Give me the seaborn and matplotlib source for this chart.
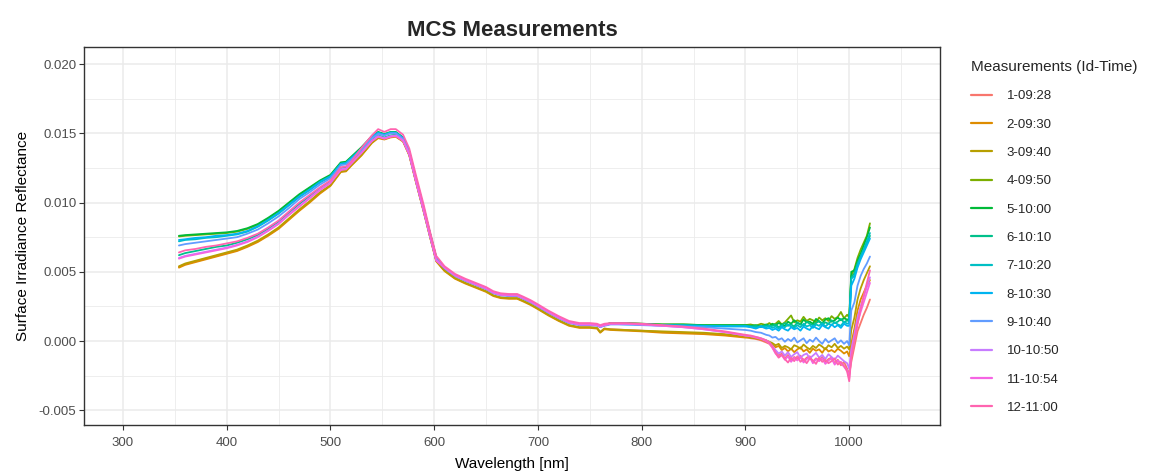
import numpy as np
import pandas as pd
import matplotlib
matplotlib.use("Agg")
import matplotlib.pyplot as plt
from matplotlib.ticker import MultipleLocator, FormatStrFormatter
import seaborn as sns

# Wavelength grid [nm]
wavelength = [354, 360, 370, 380, 390, 400, 410, 420, 430, 440, 450, 460, 470, 480, 490, 500,
              505, 510, 515, 520, 530, 540, 546, 552, 558, 563, 570, 576, 582, 590, 596, 602,
              610, 620, 630, 640, 650, 657, 664, 672, 680, 686, 693, 700, 710, 720, 730, 740,
              750, 757, 760, 764, 770, 785, 800, 820, 840, 860, 880, 900,
              905, 910, 915, 920,
              923, 926, 929, 932, 935, 938, 941, 944, 947, 950, 953, 956, 959,
              962, 965, 968, 971, 974, 977, 980, 983, 986, 989, 992, 995, 998,
              1000, 1002, 1005, 1008, 1011, 1014, 1017, 1020]

# Reflectance values in units of 1e-4
m01 = [53.5, 55.5, 57.5, 59.5, 61.5, 63.5, 65.5, 68.5, 72, 76.5, 81.5, 88, 94.5, 100.5, 107, 112.5,
       117.5, 122.5, 123, 127, 134.5, 143.5, 147, 146, 147.5, 148, 144.5, 134.5, 116.5, 93.5, 75.5, 58,
       51, 45.5, 42, 39, 36, 33, 31.5, 31, 31, 29, 26.5, 23.5, 19, 15, 11.5, 10,
       10, 9.5, 6.5, 9, 8.5, 8, 7.5, 6.5, 6, 5.5, 4.5, 3,
       2, 1.5, 0.5, -1,
       -2, -4.5, -8, -10.5, -9, -12.5, -10, -14, -11.5, -13, -10.5, -14.5, -12,
       -11, -15, -12.5, -14, -11.5, -15.5, -13, -12, -16, -13.5, -17.5, -15, -20,
       -24, -15, -4, 7, 13, 19, 24, 30]
m02 = [53, 55, 57, 59, 61, 63, 65, 68, 71.5, 76, 81, 87.5, 94, 100, 106.5, 112,
       117, 122, 122.5, 126.5, 134, 143, 146.5, 145.5, 147, 147.5, 144, 134, 116, 93, 75, 57.5,
       50.5, 45, 41.5, 38.5, 35.5, 32.5, 31, 30.5, 30.5, 28.5, 26, 23, 18.5, 14.5, 11, 9.5,
       9.5, 9, 6, 8.5, 8, 7.5, 7, 6, 5.5, 5, 4, 2.5,
       2.5, 2, 1, 0,
       -1, -2.5, -4.5, -3.5, -6.5, -5, -7.5, -5.5, -8, -6, -4.5, -7.5, -6,
       -8.5, -5.5, -7, -6, -8.5, -5, -7.5, -6.5, -8, -5.5, -7, -9, -7.5,
       -11, -2, 9, 22, 30, 35, 40, 44]
m03 = [54, 56, 58, 60, 62, 64, 66, 69, 72.5, 77, 82, 88.5, 95, 101, 107.5, 112.5,
       117.5, 122.5, 123, 127, 134.5, 143.5, 147, 146, 147.5, 148, 144.5, 134.5, 116.5, 93.5, 75.5, 58,
       51, 45.5, 42, 39, 36, 33, 31.5, 31, 31, 29, 26.5, 23.5, 19, 15, 11.5, 10,
       10, 9.5, 6.5, 9, 8.5, 8, 7.5, 7, 6.5, 6, 5, 3.5,
       2.5, 2, 1.5, 0.5,
       -0.5, -1.5, -3, -2, -5, -3.5, -4.5, -6, -3, -4, -5.5, -2.5, -4.5,
       -6, -3.5, -5, -2.5, -4, -6, -3, -4.5, -2, -5, -3.5, -5.5, -4,
       -6, 8, 17, 30, 38, 44, 49, 54]
m04 = [75.5, 76, 76.5, 77, 77.5, 78, 79, 81, 84, 88.5, 93.5, 99.5, 105.5, 110.5, 115.5, 119.5,
       124, 128.5, 129, 132.5, 139.5, 147.5, 150.5, 149, 150.5, 150.5, 146.5, 136.5, 118.5, 95.5, 77.5, 60,
       53, 47.5, 44, 41, 38, 35, 33.5, 33, 33, 31, 28.5, 25.5, 21, 17, 13.5, 12,
       12, 11.5, 10.5, 11.5, 13, 13, 12.5, 12, 12, 11.5, 11.5, 11.5,
       12, 11, 12.5, 11.5,
       13, 11.5, 12.5, 14.5, 12, 13.5, 16, 18.5, 13.5, 15, 14, 17.5, 14.5,
       16, 15, 13.5, 17, 15, 16.5, 14.5, 18, 16, 17.5, 21, 16.5, 19,
       17, 47, 52, 60, 66, 71, 76, 85]
m05 = [76, 76.5, 77, 77.5, 78, 78.5, 79.5, 81.5, 84.5, 89, 94, 100, 106, 111, 116, 120,
       124.5, 129, 129.5, 133, 140, 148, 151, 149.5, 151, 151, 147, 137, 119, 96, 78, 60.5,
       53, 47.5, 44, 41, 38, 35, 33.5, 33, 33, 31, 28.5, 25.5, 21, 17, 13.5, 12,
       12, 11.5, 10.5, 11.5, 13, 13, 12.5, 12, 12, 11.5, 11.5, 11.5,
       11, 11.5, 10.5, 12,
       11, 12.5, 11.5, 13, 12, 11, 14, 12.5, 15, 13, 12, 15.5, 13.5,
       14, 12.5, 16, 14, 13, 15.5, 16.5, 14, 15, 17, 15, 16.5, 15.5,
       16, 50, 51, 58, 63, 69, 75, 82]
m06 = [62, 63.5, 65, 66.5, 68, 69, 71, 73.5, 76.5, 81, 86, 92.5, 99, 104.5, 110.5, 115,
       120, 125, 125.5, 129, 136.5, 145, 148.5, 147, 148.5, 149, 145, 135, 117, 94, 76, 58.5,
       53, 47.5, 44, 41, 38, 35, 33.5, 33, 33, 31, 28.5, 25.5, 21, 17, 13.5, 12,
       12, 11.5, 10.5, 11.5, 12.5, 12.5, 12, 11.5, 11.5, 11, 11, 11,
       10.5, 11, 10, 11.5,
       10.5, 11, 12, 10, 11.5, 13, 11, 12, 10.5, 13.5, 12, 11, 14,
       12.5, 11.5, 13, 14.5, 12, 13.5, 12.5, 15, 13, 14, 16, 13.5, 15,
       14, 46, 49, 56, 61, 66, 71, 76]
m07 = [72, 73, 73.5, 74.5, 75, 76, 77, 79, 82.5, 87, 92, 98, 104, 109, 114.5, 118.5,
       123, 128, 128.5, 132, 139, 147, 150, 149, 150.5, 150.5, 146.5, 136.5, 118.5, 95.5, 77.5, 60,
       53, 47.5, 44, 41, 38, 35, 33.5, 33, 33, 31, 28.5, 25.5, 21, 17, 13.5, 12,
       12, 11.5, 10.5, 11.5, 12.5, 12.5, 12, 11.5, 11.5, 11, 11, 11,
       10.5, 9.5, 11, 10,
       11, 9.5, 10.5, 9, 11, 10, 12, 10.5, 9.5, 11.5, 10, 12.5, 10.5,
       11.5, 9.5, 12, 11, 13, 10.5, 12.5, 11.5, 13.5, 12, 11, 14, 12.5,
       13, 45, 47, 55, 61, 66, 72, 78]
m08 = [73, 73.5, 74.5, 75, 76, 76.5, 77.5, 79.5, 83, 87.5, 92.5, 98.5, 104.5, 109.5, 115, 119,
       123.5, 128, 128.5, 132, 139, 147.5, 150.5, 149, 150.5, 150.5, 146.5, 136.5, 118.5, 95.5, 77.5, 60,
       53, 47.5, 44, 41, 38, 35, 33.5, 33, 33, 31, 28.5, 25.5, 21, 17, 13.5, 12,
       12, 11.5, 10.5, 11.5, 12.5, 12, 12, 11.5, 11, 11, 10.5, 10.5,
       10, 9, 10.5, 9,
       9.5, 8, 9, 7.5, 10, 8.5, 7.5, 10, 8.5, 9.5, 7.5, 10.5, 9,
       8, 11, 9.5, 8.5, 11.5, 10, 9, 12, 10, 11.5, 9.5, 12.5, 11,
       11, 40, 45, 53, 59, 64, 69, 74]
m09 = [69, 70, 71, 72, 73, 74, 75, 77.5, 80.5, 85, 90, 96, 102.5, 107.5, 113, 117.5,
       122, 127, 127.5, 131, 138, 146.5, 149.5, 148.5, 150, 150, 146, 136, 118, 95, 77, 59.5,
       52.5, 47, 43.5, 40.5, 37.5, 34.5, 33, 32.5, 32.5, 30.5, 28, 25, 20.5, 16.5, 13, 11.5,
       11.5, 11, 10, 11, 12, 12, 11.5, 11, 10.5, 10, 9, 8,
       7.5, 6.5, 6, 4.5,
       4, 2.5, 3, 1, 2, -0.5, 1.5, 0, 2.5, -1, 0.5, 2, -1.5,
       1, -0.5, 2.5, 0, -2, 1.5, -1, 0.5, 2, -1.5, 0.5, -2, 0,
       -3, 22, 28, 40, 47, 52, 56, 61]
m10 = [60, 61.5, 63, 64.5, 66, 67.5, 69.5, 72, 75.5, 80, 85, 91.5, 97.5, 103.5, 109.5, 114.5,
       119, 124, 124.5, 128.5, 136, 144.5, 148, 146.5, 148, 148.5, 145, 135, 117, 94, 76, 58.5,
       53, 47.5, 44, 41, 38, 35, 33.5, 33, 33, 31, 28.5, 25.5, 21, 17, 13.5, 12,
       12, 11.5, 10.5, 11.5, 12.5, 12.5, 12, 11, 10, 8.5, 6.5, 4,
       3.5, 3, 2, 0.5,
       -1, -3.5, -6.5, -9, -7.5, -10.5, -8, -11.5, -9.5, -8, -12, -10, -9,
       -12.5, -10.5, -8.5, -12, -10, -13, -9.5, -11.5, -13.5, -10.5, -12.5, -14.5, -16,
       -20, -6, 5, 17, 25, 32, 39, 46]
m11 = [59.5, 61, 62.5, 64, 65.5, 67, 69, 71.5, 75, 79.5, 84.5, 91, 97, 103, 109, 114,
       119, 123.5, 124, 128, 136, 144.5, 147.5, 146, 147.5, 148, 144.5, 134.5, 116.5, 93.5, 75.5, 58,
       53, 47.5, 44, 41, 38, 35, 33.5, 33, 33, 31, 28.5, 25.5, 21, 17, 13.5, 12,
       12, 11.5, 10.5, 11.5, 12.5, 12.5, 12, 11, 10, 8.5, 6.5, 4,
       3.5, 2.5, 1.5, 0,
       -1.5, -5, -9, -11.5, -10, -13.5, -11, -15, -12, -14, -11.5, -15.5, -13,
       -11.5, -16, -13, -14.5, -12.5, -16.5, -14, -12.5, -17, -14, -16, -18.5, -21,
       -27, -10, 1, 13, 21, 28, 35, 42]
m12 = [64, 65.5, 66.5, 68, 69, 70.5, 72, 74.5, 77.5, 82, 87, 93.5, 100, 105.5, 111, 116,
       120.5, 125.5, 126, 129.5, 139.5, 148.5, 153, 151, 153, 153, 149, 139, 121, 98, 79, 61.5,
       54, 48.5, 45, 42, 39, 36, 34.5, 34, 34, 32, 29.5, 26.5, 22, 18, 14.5, 13,
       13, 12.5, 11.5, 12.5, 13, 13, 12.5, 11.5, 10.5, 9, 7, 4.5,
       4, 3, 2, 0.5,
       -1, -4, -8.5, -12, -10, -13, -15.5, -12, -14.5, -11, -15, -13, -16,
       -12.5, -14, -16.5, -12, -15, -13.5, -16, -14.5, -12.5, -17, -15, -18, -22,
       -29, -12, 0, 12, 23, 33, 42, 51]

labels = ["1-09:28", "2-09:30", "3-09:40", "4-09:50", "5-10:00", "6-10:10",
          "7-10:20", "8-10:30", "9-10:40", "10-10:50", "11-10:54", "12-11:00"]
colors = ["#F8766D", "#DE8C00", "#B79F00", "#7CAE00", "#00BA38", "#00C08B",
          "#00BFC4", "#00B4F0", "#619CFF", "#C77CFF", "#F564E3", "#FF64B0"]

series = [m01, m02, m03, m04, m05, m06, m07, m08, m09, m10, m11, m12]
frames = []
for lab, vals in zip(labels, series):
    assert len(vals) == len(wavelength), (lab, len(vals), len(wavelength))
    frames.append(pd.DataFrame({"Wavelength": wavelength,
                                "Reflectance": np.array(vals, dtype=float) * 1e-4,
                                "Measurement": lab}))
df = pd.concat(frames, ignore_index=True)

sns.set_theme(style="white")
plt.rcParams["font.family"] = ["Liberation Sans", "DejaVu Sans"]
plt.rcParams["axes.unicode_minus"] = False

W, H = 1160, 473
fig = plt.figure(figsize=(W / 100, H / 100), dpi=100)
L, R, T, B = 84, 940, 47, 425
ax = fig.add_axes([L / W, 1 - B / H, (R - L) / W, (B - T) / H])

sns.lineplot(data=df, x="Wavelength", y="Reflectance", hue="Measurement",
             hue_order=labels, palette=colors, linewidth=1.3, estimator=None,
             ax=ax)

ax.set_xlim(262.5, 1087.5)
ax.set_ylim(-0.00606, 0.02123)
ax.xaxis.set_major_locator(MultipleLocator(100))
ax.xaxis.set_minor_locator(MultipleLocator(50))
ax.yaxis.set_major_locator(MultipleLocator(0.005))
ax.yaxis.set_minor_locator(MultipleLocator(0.0025))
ax.yaxis.set_major_formatter(FormatStrFormatter("%.3f"))
ax.grid(which="major", color="#EBEBEB", linewidth=1.1)
ax.grid(which="minor", color="#EBEBEB", linewidth=0.6)
ax.set_axisbelow(True)
for sp in ax.spines.values():
    sp.set_color("#333333")
    sp.set_linewidth(1.0)
ax.tick_params(which="major", direction="out", length=3.5, width=0.8,
               color="#333333", labelcolor="#4D4D4D", labelsize=9.5, pad=2,
               bottom=True, left=True)
ax.tick_params(axis="x", which="major", pad=5)
ax.tick_params(which="minor", length=0)

ax.set_xlabel("Wavelength [nm]", fontsize=11, color="black", labelpad=6)
ax.set_ylabel("Surface Irradiance Reflectance", fontsize=11, color="black", labelpad=6)
ax.set_title("MCS Measurements", fontsize=16, fontweight="bold", pad=8)

handles, labs = ax.get_legend_handles_labels()
if ax.get_legend():
    ax.get_legend().remove()
leg = ax.legend(handles, labs, title="Measurements (Id-Time)",
                loc="upper left", bbox_to_anchor=(971 / W, 1 - 60 / H),
                bbox_transform=fig.transFigure, frameon=False,
                fontsize=9.5, title_fontsize=11, labelspacing=1.22,
                handlelength=1.6, handletextpad=1.1, borderpad=0,
                borderaxespad=0, alignment="left")
for ln in leg.get_lines():
    ln.set_linewidth(1.6)

fig.savefig("out.png", dpi=100)
